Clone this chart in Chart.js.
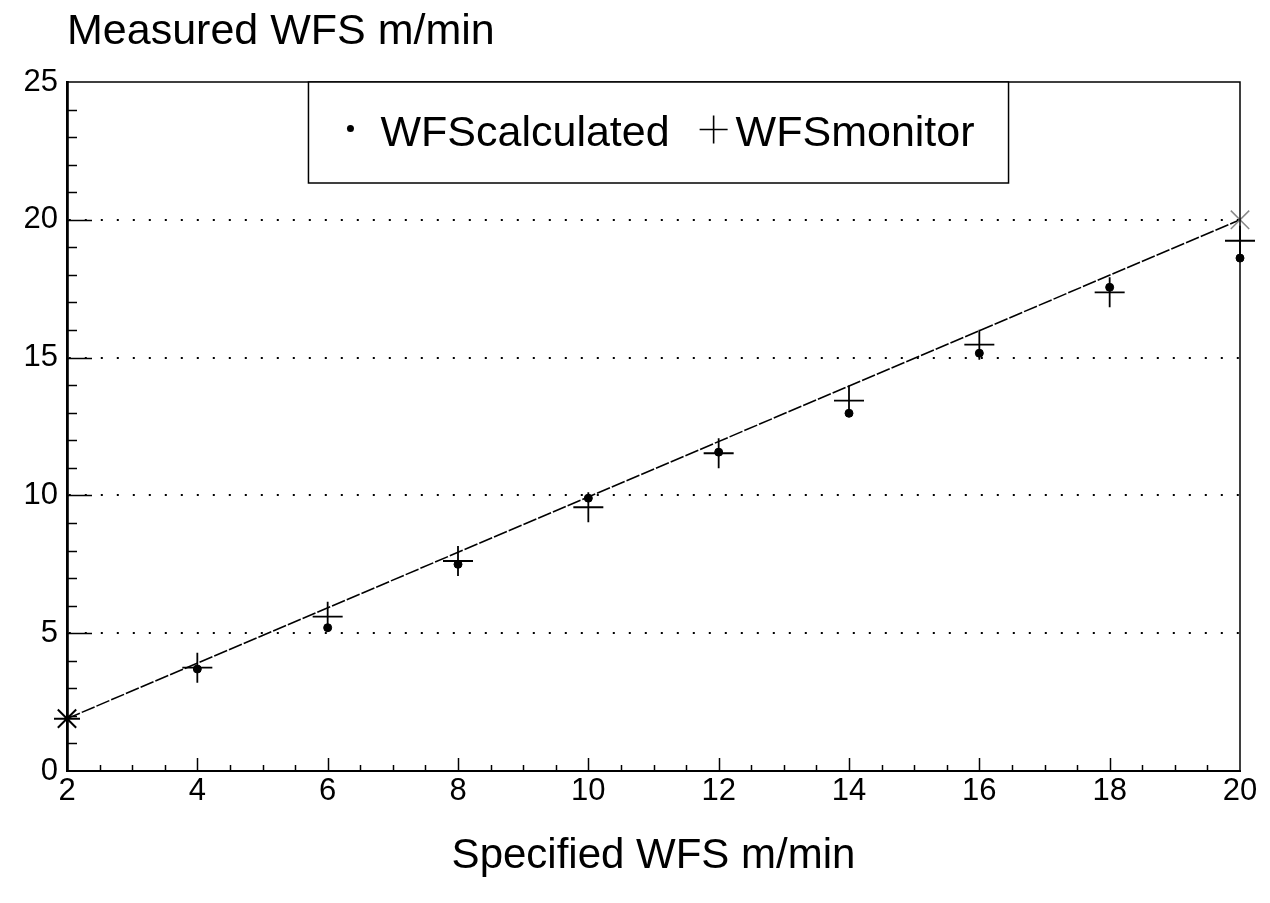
<!DOCTYPE html>
<html>
<head>
<meta charset="utf-8">
<script src="https://cdn.jsdelivr.net/npm/chart.js@4.4.1/dist/chart.umd.min.js"></script>
<style>
  html, body { margin: 0; padding: 0; background: #fff; }
  #wrap { width: 1270px; height: 903px; }
</style>
</head>
<body>
<div id="wrap"><canvas id="c" width="1270" height="903"></canvas></div>
<script>
// ---- data ----
const specifiedWFS  = [4, 6, 8, 10, 12, 14, 16, 18, 20];
const wfsCalculated = [3.70, 5.20, 7.50, 9.90, 11.57, 12.98, 15.16, 17.55, 18.61];
const wfsMonitor    = [3.75, 5.60, 7.62, 9.57, 11.53, 13.44, 15.47, 17.37, 19.24];
const idealX = [2, 20];
const idealY = [1.9, 20];
const seriesLabels = ['WFScalculated', 'WFSmonitor'];
const titleText = 'Measured WFS m/min';
const xTitleText = 'Specified WFS m/min';

const FONT = '"Liberation Sans", Arial, Helvetica, sans-serif';

const toPts = (xs, ys) => xs.map((x, i) => ({ x: x, y: ys[i] }));

// inner tick marks and frame
const framePlugin = {
  id: 'frame',
  afterDraw(chart) {
    const { ctx, chartArea: a, scales: { x, y } } = chart;
    ctx.save();
    ctx.strokeStyle = '#000';
    ctx.lineWidth = 1.5;
    ctx.beginPath();
    ctx.moveTo(a.left, a.top); ctx.lineTo(a.right, a.top); ctx.lineTo(a.right, a.bottom);
    ctx.stroke();
    for (let v = 1; v < 25; v++) {
      const py = Math.round(y.getPixelForValue(v)) + 0.5;
      const len = v % 5 === 0 ? 25 : 10;
      ctx.beginPath(); ctx.moveTo(a.left, py); ctx.lineTo(a.left + len, py); ctx.stroke();
    }
    for (let v = 2.5; v < 20; v += 0.5) {
      const px = Math.round(x.getPixelForValue(v)) + 0.5;
      const len = v % 2 === 0 ? 13 : 6;
      ctx.beginPath(); ctx.moveTo(px, a.bottom); ctx.lineTo(px, a.bottom - len); ctx.stroke();
    }
    ctx.restore();
  }
};

// boxed legend inside the plot area
const legendBoxPlugin = {
  id: 'legendBox',
  afterDraw(chart) {
    const { ctx, chartArea: a } = chart;
    const ds = chart.data.datasets;
    ctx.save();
    ctx.font = '43px ' + FONT;
    const t1 = ctx.measureText(ds[0].label).width;
    const t2 = ctx.measureText(ds[1].label).width;
    const inner = 10 + 23 + t1 + 28 + 28 + 8 + t2;
    const boxW = inner + 75;
    const cx = (a.left + a.right) / 2 + 5;
    const left = cx - boxW / 2;
    const top = a.top, h = 101;
    ctx.fillStyle = '#fff';
    ctx.fillRect(left, top, boxW, h);
    ctx.strokeStyle = '#000';
    ctx.lineWidth = 1.5;
    ctx.strokeRect(left, top, boxW, h);
    const cy = top + h / 2;
    let xx = left + 42;
    ctx.fillStyle = '#000';
    ctx.beginPath(); ctx.arc(xx, cy - 4, 3.5, 0, Math.PI * 2); ctx.fill();
    xx += 5 + 25;
    ctx.textBaseline = 'middle';
    ctx.textAlign = 'left';
    ctx.fillText(ds[0].label, xx, cy + 2);
    xx += t1 + 30 + 14;
    ctx.lineWidth = 1.6;
    ctx.beginPath();
    ctx.moveTo(xx - 14, cy - 3); ctx.lineTo(xx + 14, cy - 3);
    ctx.moveTo(xx, cy - 17); ctx.lineTo(xx, cy + 11);
    ctx.stroke();
    xx += 14 + 8;
    ctx.fillText(ds[1].label, xx, cy + 2);
    ctx.restore();
  }
};

new Chart(document.getElementById('c'), {
  type: 'scatter',
  data: {
    datasets: [
      {
        label: seriesLabels[0],
        data: toPts(specifiedWFS, wfsCalculated),
        pointStyle: 'circle',
        pointRadius: 4,
        pointBackgroundColor: '#000',
        pointBorderColor: '#000',
        pointBorderWidth: 1,
        showLine: false,
        clip: false
      },
      {
        label: seriesLabels[1],
        data: toPts(specifiedWFS, wfsMonitor),
        pointStyle: 'cross',
        pointRadius: 15,
        pointBorderColor: '#000',
        pointBorderWidth: 1.8,
        showLine: false,
        clip: false
      },
      {
        label: 'ideal',
        data: toPts(idealX, idealY),
        showLine: true,
        borderColor: '#000',
        borderWidth: 1.6,
        borderDash: [14, 2],
        pointStyle: ['star', 'crossRot'],
        pointRadius: 13,
        pointBorderColor: ['#000', '#888'],
        pointBorderWidth: [2, 1.5],
        pointBackgroundColor: 'transparent',
        clip: false
      }
    ]
  },
  options: {
    responsive: false,
    animation: false,
    layout: { padding: { left: 0, right: 30, top: 0, bottom: 0 } },
    plugins: {
      legend: { display: false },
      tooltip: { enabled: false },
      title: {
        display: true,
        text: titleText,
        align: 'start',
        fullSize: false,
        color: '#000',
        font: { family: FONT, size: 43, weight: 'normal', lineHeight: 1.2 },
        padding: { top: 6, bottom: 24.4 }
      }
    },
    scales: {
      x: {
        type: 'linear',
        min: 2, max: 20,
        afterFit(s) { s.height = 132; },
        ticks: {
          stepSize: 2,
          color: '#000',
          padding: 2,
          font: { family: FONT, size: 31 },
          maxRotation: 0
        },
        grid: { display: false, drawTicks: false },
        border: { display: true, color: '#000', width: 2 },
        title: {
          display: true,
          text: xTitleText,
          color: '#000',
          font: { family: FONT, size: 42 },
          padding: { top: 0, bottom: 21 }
        }
      },
      y: {
        min: 0, max: 25,
        afterFit(s) { s.width = 67; },
        ticks: {
          stepSize: 5,
          color: '#000',
          padding: 9,
          font: { family: FONT, size: 31 }
        },
        grid: {
          drawTicks: false,
          lineWidth: 2,
          color: (c) => (c.tick && c.tick.value > 0 && c.tick.value < 25) ? '#000' : 'rgba(0,0,0,0)'
        },
        border: { display: true, color: '#000', width: 2.8, dash: [2, 14] }
      }
    }
  },
  plugins: [framePlugin, legendBoxPlugin]
});
</script>
</body>
</html>
